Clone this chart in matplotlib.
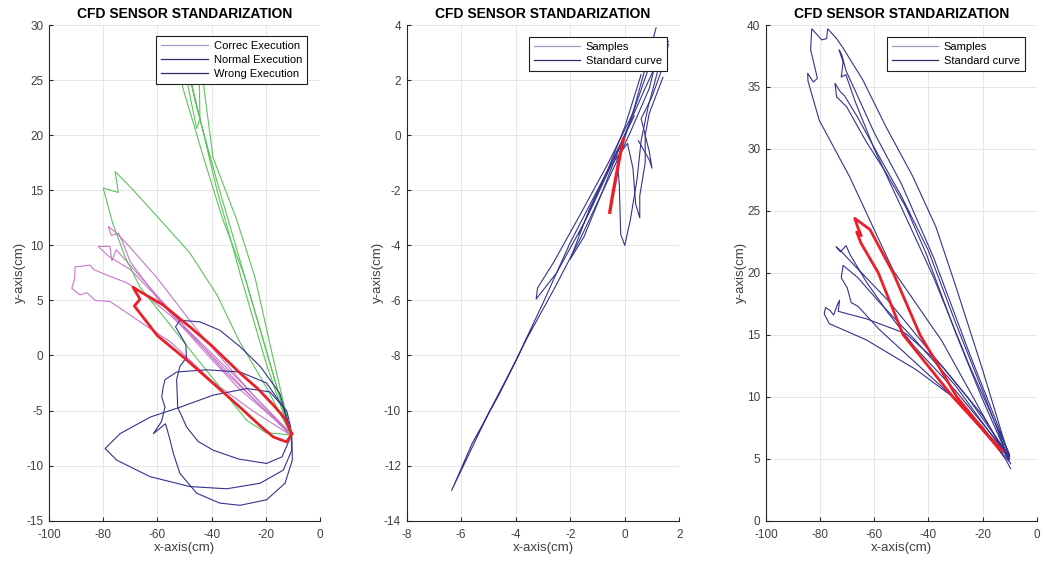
import matplotlib
matplotlib.use("Agg")
import matplotlib.pyplot as plt
from matplotlib.lines import Line2D

plt.rcParams['font.family'] = ['Liberation Sans', 'DejaVu Sans']
plt.rcParams['axes.unicode_minus'] = False

# -------------------------------
# Panel 1 data (x-axis cm, y-axis cm)
# -------------------------------
correct_a = [(-11, -7.0), (-27.7, 7.1), (-35.8, 12.3), (-43, 18), (-50.6, 24.3), (-52, 26.5),
             (-53, 27.8), (-50.5, 26.6), (-45.5, 20.6), (-44.3, 21.5), (-44.5, 24.5), (-43.5, 25.6),
             (-39.5, 18), (-30.7, 12.3), (-24, 7.1), (-17.5, 0), (-11, -6.9)]
correct_b = [(-11, -7.1), (-20, 0.6), (-29, 8.2), (-38, 15.8), (-46, 23.0), (-48.5, 25.8),
             (-46.5, 23.8), (-38, 15.0), (-29, 7.0), (-20, -0.6), (-11, -7.1)]
correct_c = [(-11, -7.2), (-20, -7.0), (-27, -5.9), (-45, -0.4), (-66.4, 6.2), (-72, 9.0),
             (-76.5, 12), (-80, 15.2), (-74.4, 14.8), (-75.6, 16.7), (-70, 15.3), (-60, 12.6),
             (-48, 9.3), (-38, 5.5), (-30, 1.4), (-20, -2.8), (-11, -7)]

normal_a = [(-11, -7), (-25, -3.5), (-44.3, 2.0), (-60, 7.0), (-70, 9.8), (-75, 11.1), (-78.1, 11.7),
            (-77, 10.9), (-74.4, 11.1), (-73, 10.4), (-70, 8.5), (-60, 5.2), (-45, 1.0), (-30, -3.0),
            (-11, -7)]
normal_b = [(-11, -7.1), (-35, -1.5), (-55, 4.0), (-70, 7.8), (-78, 9.0), (-81.8, 9.9), (-77.5, 9.9),
            (-76.8, 8.6), (-75.2, 9.6), (-65, 6.8), (-50, 2.6), (-30, -2.2), (-11, -7.1)]
normal_c = [(-11, -7.2), (-25, -3.8), (-40, 0.0), (-55, 3.6), (-65, 5.6), (-71.3, 6.6), (-78.7, 7.3),
            (-83.5, 7.8), (-84.9, 8.2), (-88, 8.1), (-90.4, 8.05), (-90.5, 7.0), (-91.6, 6.1),
            (-88.6, 5.5), (-86, 5.7), (-83, 5.0), (-77.5, 4.9), (-72, 4.0), (-66.4, 3.05),
            (-55, 1.2), (-40, -2.3), (-25, -5.0), (-11, -7.2)]

wrong_a = [(-10.8, -6.5), (-12.3, -5.0), (-18.5, -3.3), (-27, -3.0), (-39.4, -3.6), (-51.7, -4.7),
           (-62.7, -5.6), (-73.8, -7.1), (-79.3, -8.45), (-75, -9.5), (-62.7, -11.0), (-48, -11.9),
           (-34.4, -12.1), (-22.1, -11.6), (-13.5, -10.4), (-10.4, -8.6), (-10.8, -6.8)]
wrong_b = [(-10.4, -7.1), (-13.5, -4.7), (-19.7, -2.5), (-29.5, -1.5), (-41.8, -1.3), (-52.9, -1.5),
           (-57.2, -2.2), (-57.8, -2.8), (-58.4, -3.75), (-57.2, -4.7), (-58.5, -6.0), (-61.5, -7.1),
           (-59, -6.6), (-57, -6.2), (-55.5, -7.5), (-54.1, -8.9), (-51.7, -10.7), (-45.5, -12.5),
           (-37, -13.4), (-29.5, -13.6), (-19.7, -13.1), (-12.9, -11.6), (-10.2, -9.5), (-10.4, -7.1)]
wrong_c = [(-11, -6.8), (-14.8, -3.45), (-22, -1.0), (-29.5, 0.8), (-37, 2.3), (-44.3, 3.05),
           (-51.7, 3.2), (-53.3, 2.6), (-49.5, 1.0), (-49.3, -0.2), (-51.7, -1.0), (-52.9, -2.2),
           (-52.5, -4.7), (-49.2, -6.5), (-45, -7.8), (-39.4, -8.6), (-30, -9.4), (-19.7, -9.8),
           (-14, -9.2), (-11, -7.5)]

standard_1 = [(-10.4, -7.1), (-13, -5.7), (-17.2, -4.5), (-23, -3.0), (-29.5, -1.6), (-40, 0.9),
              (-48, 2.6), (-58, 4.6), (-66.4, 5.8), (-69, 6.2), (-66.4, 5.1), (-68.5, 4.5), (-60, 1.8),
              (-49.2, -0.4), (-40, -2.4), (-29.5, -4.7), (-22, -6.4), (-17.2, -7.4), (-12.3, -7.85),
              (-10.4, -7.1)]

# -------------------------------
# Panel 2 data
# -------------------------------
samples2_a = [(1.15, 3.9), (0.8, 2.6), (0.35, 1.0), (0.0, -0.1), (-0.9, -1.8), (-2.0, -3.9),
              (-3.0, -6.1), (-4.0, -8.2), (-5.0, -10.1), (-6.35, -12.9), (-5.6, -11.2), (-4.6, -9.4),
              (-3.6, -7.4), (-2.6, -5.6), (-1.6, -3.7), (-0.6, -1.6), (0.2, 0.1), (0.9, 1.7),
              (1.3, 3.3), (1.6, 3.4)]
samples2_b = [(0.35, 0.7), (-0.4, -0.8), (-1.5, -3.2), (-2.5, -5.0), (-3.25, -5.95), (-3.2, -5.55),
              (-2.6, -4.6), (-1.7, -3.0), (-0.6, -1.0), (0.3, 0.8), (0.9, 2.5), (1.2, 3.3)]
samples2_c = [(0.6, 2.2), (0.0, 0.3), (-0.6, -1.2), (-1.3, -2.7), (-2.0, -4.5), (-1.5, -3.7),
              (-0.8, -2.0), (-0.1, -0.2), (0.7, 1.6), (1.3, 2.9)]
samples2_d = [(-0.3, -0.6), (-0.2, -1.8), (-0.15, -3.6), (0.0, -4.0), (0.2, -3.1), (0.45, -1.6),
              (0.6, -0.2), (0.85, 1.0), (1.2, 2.3), (1.5, 3.3)]
samples2_e = [(1.4, 2.1), (0.9, 0.8), (0.75, 0.0), (0.75, -1.0), (0.55, -2.2), (0.55, -3.0),
              (0.4, -2.5), (0.3, -1.2), (0.1, -0.3), (-0.5, -1.1), (-1.2, -2.6), (-1.7, -3.6)]
samples2_f = [(0.5, -0.2), (0.9, -0.9), (1.0, -1.2), (0.9, -0.6), (0.6, 0.6), (1.0, 1.4),
              (1.4, 2.5), (1.6, 3.3)]
standard_2 = [(-0.55, -2.8), (-0.45, -2.2), (-0.3, -1.4), (-0.15, -0.6), (-0.05, -0.15)]

# -------------------------------
# Panel 3 data
# -------------------------------
samples3_a = [(-9.6, 4.6), (-20, 8.6), (-35, 14.5), (-53, 20.2), (-59.4, 23.2), (-69.2, 27.8),
              (-80.3, 32.3), (-84.5, 35.5), (-84.6, 36.1), (-82.5, 35.4), (-81, 35.7), (-83.5, 38),
              (-83.1, 39.7), (-79.4, 38.8), (-77.6, 38.9), (-77.2, 39.7), (-73.9, 38.9), (-71.4, 38.1),
              (-64.3, 35.6), (-55.7, 31.8), (-45.8, 27.8), (-37.2, 23.7), (-30, 19.0), (-20, 12.2),
              (-10, 5.0)]
samples3_b = [(-10.3, 5.0), (-20, 9.8), (-30, 15.2), (-40.9, 21.6), (-48.3, 25.3), (-56, 28.2),
              (-63, 30.6), (-70.2, 33.4), (-73.9, 34.2), (-74.5, 35.3), (-72.5, 34.6), (-71, 34.3),
              (-66, 32.5), (-60, 30.1), (-50, 26.2), (-40, 21.8), (-30, 16.0), (-20, 10.5), (-10.3, 5.0)]
samples3_c = [(-10, 5.3), (-25, 13.6), (-38, 21.2), (-50, 27.2), (-60, 31.3), (-66, 34.2),
              (-70.4, 36.3), (-72, 37.6), (-73, 38.0), (-71.5, 37.0), (-72.2, 35.8), (-70.5, 36.0),
              (-67, 33.8), (-60, 30.0), (-50, 25.3), (-38, 19.6), (-25, 12.6), (-10, 5.3)]
samples3_d = [(-9.6, 4.2), (-11.3, 4.9), (-20, 7.6), (-31, 10), (-44.6, 12.2), (-63, 14.6),
              (-76.6, 15.9), (-78.5, 16.7), (-78, 17.2), (-76.5, 17.0), (-75, 16.6), (-73.5, 17.5),
              (-72.8, 17.8), (-73.3, 16.9), (-70, 16.7), (-63, 16.3), (-48.3, 15.1), (-35, 12.5),
              (-20, 8.5), (-10, 5.0)]
samples3_e = [(-10, 5.2), (-25, 9.8), (-40, 13.8), (-55, 17.8), (-66, 20.3), (-72.5, 21.8),
              (-74.1, 22.1), (-72.5, 21.7), (-70.4, 22.2), (-69, 21.5), (-63, 19.3), (-55, 16.8),
              (-45, 14.0), (-30, 10.5), (-10, 5.2)]
samples3_f = [(-10.2, 5.0), (-30, 10.9), (-45, 14.6), (-58, 17.6), (-66, 19.6), (-71.5, 20.6),
              (-72.2, 19.6), (-70, 18.8), (-68.5, 17.6), (-66, 17.3), (-58, 15.4), (-45, 12.8),
              (-30, 9.8), (-10.2, 4.8)]
standard_3 = [(-12.5, 5.6), (-31, 10.0), (-49.3, 15.0), (-58.5, 20.0), (-64.9, 22.4), (-66.5, 23.3),
              (-64.8, 23.0), (-66.3, 23.8), (-67.2, 24.4), (-61.6, 23.5), (-53, 20.0), (-43.1, 15.0),
              (-29.5, 10.0), (-14, 5.8)]

# -------------------------------
# Styles
# -------------------------------
GREEN = "#5cc45c"
MAGENTA = "#c878c8"
NAVY = "#33338f"
RED = "#e8202a"
LEG_LIGHT = "#a89ac8"
LEG_DARK = "#2d2d6e"


def draw(ax, pts, color, lw=0.8):
    xs = [p[0] for p in pts]
    ys = [p[1] for p in pts]
    ax.plot(xs, ys, color=color, lw=lw, solid_joinstyle="round")


def style_axes(ax, xlim, ylim, xticks, yticks):
    ax.set_xlim(xlim)
    ax.set_ylim(ylim)
    ax.set_xticks(xticks)
    ax.set_yticks(yticks)
    ax.grid(True, color="#e2e2e2", lw=0.6)
    ax.set_axisbelow(True)
    for s in ["top", "right"]:
        ax.spines[s].set_visible(False)
    for s in ["left", "bottom"]:
        ax.spines[s].set_color("#262626")
        ax.spines[s].set_linewidth(0.8)
    ax.tick_params(direction="in", length=3, labelsize=8.5, labelcolor="#404040", color="#262626")
    ax.tick_params(axis="x", pad=6)
    ax.tick_params(axis="y", pad=4)
    ax.set_title("CFD SENSOR STANDARIZATION", fontsize=10, fontweight="bold", pad=5)
    ax.set_xlabel("x-axis(cm)", fontsize=9.5, color="#404040", labelpad=1)
    ax.set_ylabel("y-axis(cm)", fontsize=9.5, color="#404040", labelpad=0)


def add_legend(ax, labels, colors, anchor):
    handles = [Line2D([0], [0], color=c, lw=0.9) for c in colors]
    leg = ax.legend(handles, labels, loc="upper right", bbox_to_anchor=anchor, fontsize=8,
                    handlelength=4.2, handletextpad=0.5, borderpad=0.45, labelspacing=0.35,
                    fancybox=False, framealpha=1, edgecolor="#202020", borderaxespad=0)
    leg.get_frame().set_linewidth(0.8)


fig = plt.figure(figsize=(10.47, 5.66), dpi=100)

# Panel 1
ax1 = fig.add_axes([0.0468, 0.080, 0.2588, 0.8758])
for curve in [normal_a, normal_b, normal_c]:
    draw(ax1, curve, MAGENTA)
for curve in [correct_a, correct_b, correct_c]:
    draw(ax1, curve, GREEN)
for curve in [wrong_a, wrong_b, wrong_c]:
    draw(ax1, curve, NAVY)
draw(ax1, standard_1, RED, lw=2.0)
style_axes(ax1, (-100, 0), (-15, 30), range(-100, 1, 20), range(-15, 31, 5))
add_legend(ax1, ["Correc Execution", "Normal Execution", "Wrong Execution"],
           [LEG_LIGHT, LEG_DARK, LEG_DARK], (0.952, 0.978))

# Panel 2
ax2 = fig.add_axes([0.3884, 0.080, 0.2604, 0.8758])
for curve in [samples2_a, samples2_b, samples2_c, samples2_d, samples2_e, samples2_f]:
    draw(ax2, curve, NAVY)
draw(ax2, standard_2, RED, lw=2.4)
style_axes(ax2, (-8, 2), (-14, 4), range(-8, 3, 2), range(-14, 5, 2))
add_legend(ax2, ["Samples", "Standard curve"], [LEG_LIGHT, LEG_DARK], (0.955, 0.976))

# Panel 3
ax3 = fig.add_axes([0.7316, 0.080, 0.2585, 0.8758])
for curve in [samples3_a, samples3_b, samples3_c, samples3_d, samples3_e, samples3_f]:
    draw(ax3, curve, NAVY)
draw(ax3, standard_3, RED, lw=2.0)
style_axes(ax3, (-100, 0), (0, 40), range(-100, 1, 20), range(0, 41, 5))
add_legend(ax3, ["Samples", "Standard curve"], [LEG_LIGHT, LEG_DARK], (0.957, 0.976))

fig.savefig("out.png", dpi=100)
